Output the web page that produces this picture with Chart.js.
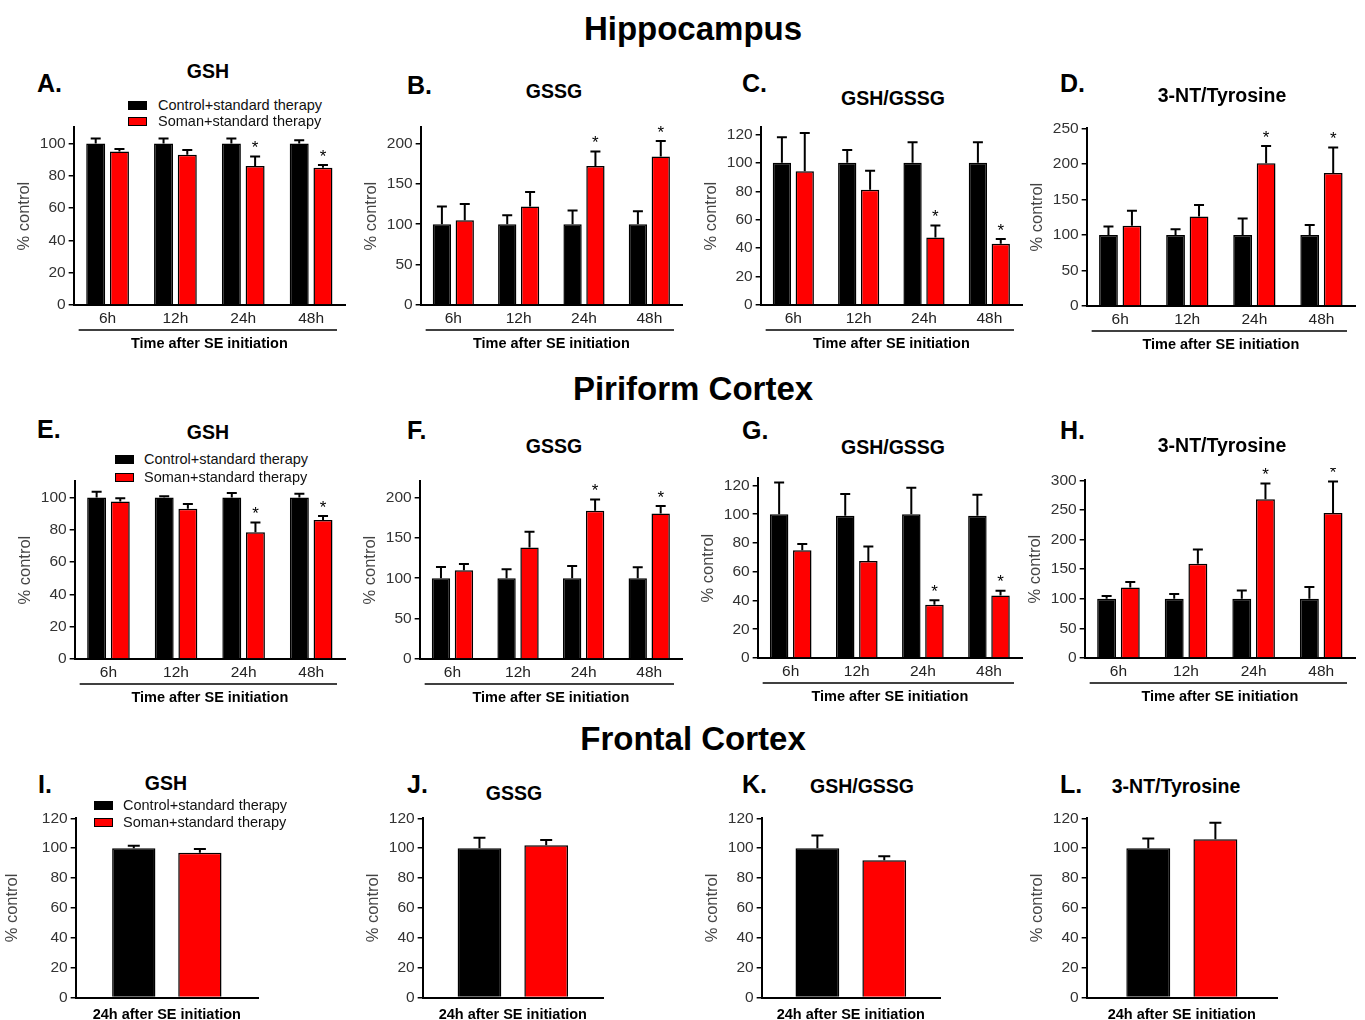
<!DOCTYPE html>
<html>
<head>
<meta charset="utf-8">
<script src="https://cdn.jsdelivr.net/npm/chart.js@4.4.1/dist/chart.umd.min.js"></script>
<style>
  body { margin: 0; background: #fff; }
  #stage { position: relative; width: 1365px; height: 1020px; background: #fff; overflow: hidden;
           font-family: "Liberation Sans", Arial, sans-serif; }
  #stage canvas { position: absolute; }
  .t { position: absolute; white-space: nowrap; line-height: 1; color: #000; }
  .box { position: absolute; border: 1px solid #000; box-sizing: border-box; }
</style>
</head>
<body>
<div id="stage"></div>
<script>
// categories
const timeLabels = ['6h', '12h', '24h', '48h'];
const frontalLabel = ['24h after SE initiation'];
const seriesNames = ['Control+standard therapy', 'Soman+standard therapy'];

// Hippocampus (values are % control, sem = error bar length)
const hipGshCtrl = [100, 100, 100, 100];
const hipGshCtrlSem = [3, 3, 3, 2];
const hipGshSoman = [95, 93, 86, 85];
const hipGshSomanSem = [1.5, 3, 6, 1.6];

const hipGssgCtrl = [100, 100, 100, 100];
const hipGssgCtrlSem = [22, 11, 17, 16];
const hipGssgSoman = [105, 122, 172, 184];
const hipGssgSomanSem = [20, 18, 18, 19];

const hipRatioCtrl = [100, 100, 100, 100];
const hipRatioCtrlSem = [18, 9, 14.5, 14.5];
const hipRatioSoman = [94, 81, 47.5, 43];
const hipRatioSomanSem = [27, 13.5, 8.5, 3.5];

const hipNtCtrl = [100, 100, 100, 100];
const hipNtCtrlSem = [12, 8, 23, 14];
const hipNtSoman = [113, 126, 201, 187];
const hipNtSomanSem = [21, 16, 24, 36];

// Piriform cortex
const pirGshCtrl = [100, 100, 100, 100];
const pirGshCtrlSem = [3.5, 0.8, 2.7, 2.3];
const pirGshSoman = [97.5, 93, 78.5, 86];
const pirGshSomanSem = [2, 3, 6, 2.5];

const pirGssgCtrl = [100, 100, 100, 100];
const pirGssgCtrlSem = [14, 11, 15, 13.5];
const pirGssgSoman = [110, 138, 183.5, 180];
const pirGssgSomanSem = [7.5, 19.5, 14, 9.5];

const pirRatioCtrl = [100, 99, 100, 99];
const pirRatioCtrlSem = [22, 15, 18.5, 14.5];
const pirRatioSoman = [75, 67.5, 37, 43.5];
const pirRatioSomanSem = [4.3, 10, 3.2, 3.3];

const pirNtCtrl = [100, 100, 100, 100];
const pirNtCtrlSem = [4.5, 8, 14, 20];
const pirNtSoman = [119, 159, 268, 245];
const pirNtSomanSem = [9.5, 24, 26.5, 53];

// Frontal cortex
const froGshCtrl = [100], froGshCtrlSem = [1.6];
const froGshSoman = [97], froGshSomanSem = [2.5];
const froGssgCtrl = [100], froGssgCtrlSem = [7];
const froGssgSoman = [102], froGssgSomanSem = [3.4];
const froRatioCtrl = [100], froRatioCtrlSem = [8.5];
const froRatioSoman = [92], froRatioSomanSem = [2.6];
const froNtCtrl = [100], froNtCtrlSem = [6.5];
const froNtSoman = [106], froNtSomanSem = [11];

// significant (*) soman bars
const starsTime = [2, 3];

Chart.defaults.font.family = '"Liberation Sans", Arial, sans-serif';

const stage = document.getElementById('stage');

function txt(str, x, y, size, bold, align, color) {
  const d = document.createElement('div');
  d.className = 't';
  d.textContent = str;
  d.style.fontSize = size + 'px';
  d.style.fontWeight = bold ? 'bold' : 'normal';
  if (color) d.style.color = color;
  d.style.left = x + 'px';
  d.style.top = y + 'px';
  d.style.transform = align == 'center' ? 'translate(-50%,-50%)' : 'translate(0,-50%)';
  stage.appendChild(d);
}

function legend(boxX, textX, y1, y2) {
  [[y1, '#000'], [y2, '#ff0000']].forEach(([y, c], i) => {
    const b = document.createElement('div');
    b.className = 'box';
    b.style.left = boxX + 'px';
    b.style.top = (y - 4.5) + 'px';
    b.style.width = '19px';
    b.style.height = '9px';
    b.style.background = c;
    stage.appendChild(b);
    txt(seriesNames[i], textX, y, 14.5, false, 'left', '#111');
  });
}

// error bars + asterisks
const errorBars = {
  id: 'errorBars',
  afterDatasetsDraw(chart, args, opts) {
    const ctx = chart.ctx, y = chart.scales.y;
    chart.data.datasets.forEach((ds, di) => {
      chart.getDatasetMeta(di).data.forEach((bar, i) => {
        const top = y.getPixelForValue(ds.data[i] + ds.sem[i]);
        ctx.save();
        ctx.strokeStyle = '#000';
        ctx.lineWidth = 2;
        ctx.beginPath();
        ctx.moveTo(bar.x, bar.y);
        ctx.lineTo(bar.x, top);
        ctx.moveTo(bar.x - opts.cap, top);
        ctx.lineTo(bar.x + opts.cap, top);
        ctx.stroke();
        if (ds.stars && ds.stars.includes(i)) {
          ctx.fillStyle = '#000';
          ctx.font = '17px "Liberation Sans", Arial, sans-serif';
          ctx.textAlign = 'center';
          ctx.textBaseline = 'middle';
          ctx.fillText('*', bar.x, top - 8);
        }
        ctx.restore();
      });
    });
  }
};

// line between time labels and axis caption
const underline = {
  id: 'underline',
  afterDraw(chart, args, opts) {
    if (!opts.show) return;
    const a = chart.chartArea, ctx = chart.ctx;
    ctx.save();
    ctx.strokeStyle = '#000';
    ctx.lineWidth = 1.5;
    ctx.beginPath();
    ctx.moveTo(a.left + 5, a.bottom + 25);
    ctx.lineTo(a.right - 8, a.bottom + 25);
    ctx.stroke();
    ctx.restore();
  }
};

function build(cv, p, w, h) {
  cv.width = w; cv.height = h;
  cv.style.width = w + 'px'; cv.style.height = h + 'px';
  const single = p.labels.length == 1;
  return new Chart(cv, {
    type: 'bar',
    data: {
      labels: p.labels,
      datasets: [
        { data: p.ctrl, sem: p.ctrlSem, backgroundColor: '#000', borderColor: '#000', borderWidth: 1.5 },
        { data: p.soman, sem: p.somanSem, stars: p.stars, backgroundColor: '#ff0000', borderColor: '#000', borderWidth: 1.5 }
      ]
    },
    options: {
      responsive: false, maintainAspectRatio: false, animation: false,
      layout: { padding: { top: 12, right: 6, left: 0, bottom: 2 } },
      datasets: { bar: { categoryPercentage: p.cp, barPercentage: p.bp } },
      plugins: {
        legend: { display: false },
        tooltip: { enabled: false },
        errorBars: { cap: p.cap },
        underline: { show: !single }
      },
      scales: {
        x: {
          grid: { display: false, drawTicks: false },
          border: { display: true, color: '#000', width: 2 },
          ticks: {
            color: single ? '#000' : '#222',
            font: { size: single ? 14.5 : 15.5, weight: single ? 'bold' : 'normal' },
            padding: single ? 9 : 4
          },
          title: {
            display: !single, text: 'Time after SE initiation', color: '#000',
            font: { size: 14.5, weight: 'bold' }, padding: { top: 4, bottom: 0 }
          }
        },
        y: {
          min: 0, max: p.max,
          ticks: { stepSize: p.step, includeBounds: false, color: '#333', font: { size: 15.5 }, padding: 3 },
          grid: { drawOnChartArea: false, drawTicks: true, tickLength: 5, color: '#000', lineWidth: 1.5 },
          border: { display: true, color: '#000', width: 2 },
          title: { display: true, text: '% control', color: '#444', font: { size: 16.5 }, padding: p.ytp }
        }
      }
    },
    plugins: [errorBars, underline]
  });
}

function makePanel(p) {
  const cv = document.createElement('canvas');
  stage.appendChild(cv);
  const pw = p.right - p.left, ph = p.zero - p.top;
  let w = pw + 100, h = ph + 80;
  let chart = build(cv, p, w, h);
  let a = chart.chartArea;
  w += pw - (a.right - a.left);
  h += ph - (a.bottom - a.top);
  chart.destroy();
  chart = build(cv, p, Math.round(w), Math.round(h));
  a = chart.chartArea;
  cv.style.left = (p.left - a.left) + 'px';
  cv.style.top = (p.top - a.top) + 'px';
}

const four = { labels: timeLabels, cp: 0.7, bp: 0.8, cap: 5, ytp: 2 };
const one = { labels: frontalLabel, bp: 0.655, cap: 6, ytp: 2 };

const panels = [
  { ...four, left: 74, top: 127, right: 345, zero: 305, max: 110, step: 20,
    ctrl: hipGshCtrl, ctrlSem: hipGshCtrlSem, soman: hipGshSoman, somanSem: hipGshSomanSem, stars: starsTime },
  { ...four, left: 421, top: 127, right: 682, zero: 305, max: 220, step: 50,
    ctrl: hipGssgCtrl, ctrlSem: hipGssgCtrlSem, soman: hipGssgSoman, somanSem: hipGssgSomanSem, stars: starsTime },
  { ...four, left: 761, top: 127, right: 1022, zero: 305, max: 125, step: 20,
    ctrl: hipRatioCtrl, ctrlSem: hipRatioCtrlSem, soman: hipRatioSoman, somanSem: hipRatioSomanSem, stars: starsTime },
  { ...four, left: 1087, top: 128, right: 1355, zero: 306, max: 250, step: 50,
    ctrl: hipNtCtrl, ctrlSem: hipNtCtrlSem, soman: hipNtSoman, somanSem: hipNtSomanSem, stars: starsTime },

  { ...four, left: 75, top: 481, right: 345, zero: 659, max: 110, step: 20,
    ctrl: pirGshCtrl, ctrlSem: pirGshCtrlSem, soman: pirGshSoman, somanSem: pirGshSomanSem, stars: starsTime },
  { ...four, left: 420, top: 481, right: 682, zero: 659, max: 220, step: 50,
    ctrl: pirGssgCtrl, ctrlSem: pirGssgCtrlSem, soman: pirGssgSoman, somanSem: pirGssgSomanSem, stars: starsTime },
  { ...four, left: 758, top: 478, right: 1022, zero: 658, max: 125, step: 20,
    ctrl: pirRatioCtrl, ctrlSem: pirRatioCtrlSem, soman: pirRatioSoman, somanSem: pirRatioSomanSem, stars: starsTime },
  { ...four, left: 1085, top: 480, right: 1355, zero: 658, max: 300, step: 50,
    ctrl: pirNtCtrl, ctrlSem: pirNtCtrlSem, soman: pirNtSoman, somanSem: pirNtSomanSem, stars: starsTime },

  { ...one, left: 76, top: 818, right: 258, zero: 997, max: 120, step: 20, cp: 0.725, ytp: 16,
    ctrl: froGshCtrl, ctrlSem: froGshCtrlSem, soman: froGshSoman, somanSem: froGshSomanSem },
  { ...one, left: 423, top: 818, right: 603, zero: 997, max: 120, step: 20, cp: 0.74,
    ctrl: froGssgCtrl, ctrlSem: froGssgCtrlSem, soman: froGssgSoman, somanSem: froGssgSomanSem },
  { ...one, left: 762, top: 818, right: 940, zero: 997, max: 120, step: 20, cp: 0.75,
    ctrl: froRatioCtrl, ctrlSem: froRatioCtrlSem, soman: froRatioSoman, somanSem: froRatioSomanSem },
  { ...one, left: 1087, top: 818, right: 1277, zero: 997, max: 120, step: 20, cp: 0.705,
    ctrl: froNtCtrl, ctrlSem: froNtCtrlSem, soman: froNtSoman, somanSem: froNtSomanSem }
];

panels.forEach(makePanel);

// section headings
txt('Hippocampus', 693, 28, 33, true, 'center');
txt('Piriform Cortex', 693, 388, 33, true, 'center');
txt('Frontal Cortex', 693, 738, 33, true, 'center');

// panel letters
[['A.', 37, 83], ['B.', 407, 85], ['C.', 742, 83], ['D.', 1060, 83],
 ['E.', 37, 429], ['F.', 407, 430], ['G.', 742, 430], ['H.', 1060, 430],
 ['I.', 38, 784], ['J.', 407, 784], ['K.', 742, 784], ['L.', 1060, 784]]
  .forEach(([s, x, y]) => txt(s, x, y, 25, true, 'left'));

// panel titles
[['GSH', 208, 72], ['GSSG', 554, 92], ['GSH/GSSG', 893, 99], ['3-NT/Tyrosine', 1222, 96],
 ['GSH', 208, 433], ['GSSG', 554, 447], ['GSH/GSSG', 893, 448], ['3-NT/Tyrosine', 1222, 446],
 ['GSH', 166, 784], ['GSSG', 514, 794], ['GSH/GSSG', 862, 787], ['3-NT/Tyrosine', 1176, 787]]
  .forEach(([s, x, y]) => txt(s, x, y, 19.5, true, 'center'));

legend(128, 158, 105, 121);
legend(115, 144, 459, 477);
legend(94, 123, 805, 822);
</script>
</body>
</html>
